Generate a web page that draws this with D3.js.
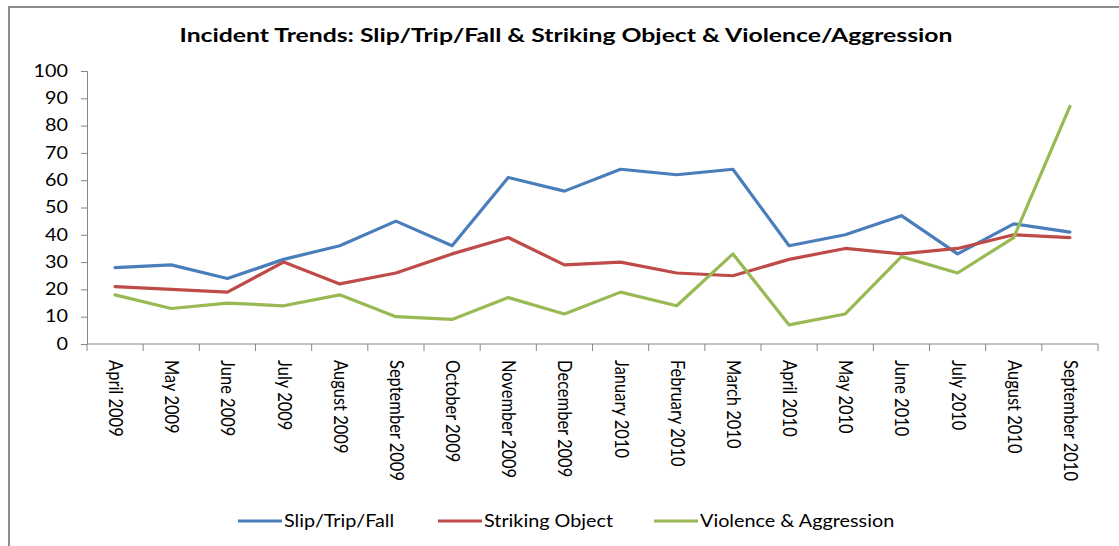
<!DOCTYPE html>
<html>
<head>
<meta charset="utf-8">
<title>Incident Trends</title>
<script src="https://d3js.org/d3.v7.min.js"></script>
<style>
  body { margin: 0; background: #fff; }
  text { font-family: Lato, "Open Sans", sans-serif; fill: #000; }
</style>
</head>
<body>
<div id="chart"></div>
<script>
var width = 1119, height = 546;

// data
var months = ["April 2009", "May 2009", "June 2009", "July 2009", "August 2009",
  "September 2009", "October 2009", "November 2009", "December 2009", "January 2010",
  "February 2010", "March 2010", "April 2010", "May 2010", "June 2010", "July 2010",
  "August 2010", "September 2010"];
var slipTripFall   = [28, 29, 24, 31, 36, 45, 36, 61, 56, 64, 62, 64, 36, 40, 47, 33, 44, 41];
var strikingObject = [21, 20, 19, 30, 22, 26, 33, 39, 29, 30, 26, 25, 31, 35, 33, 35, 40, 39];
var violence       = [18, 13, 15, 14, 18, 10, 9, 17, 11, 19, 14, 33, 7, 11, 32, 26, 39, 87];
var seriesNames  = ["Slip/Trip/Fall", "Striking Object", "Violence & Aggression"];
var seriesColors = ["#4a7ebb", "#be4b48", "#98b954"];
var yTicks = [0, 10, 20, 30, 40, 50, 60, 70, 80, 90, 100];

var series = [slipTripFall, strikingObject, violence];

// the picture is a bit stretched sideways, so horizontal text gets widened
var stretch = 1.2;

var svg = d3.select("#chart").append("svg")
  .attr("width", width)
  .attr("height", height);

// chart frame (only top and left edges are inside the picture)
svg.append("rect")
  .attr("x", 9).attr("y", 7)
  .attr("width", 1200).attr("height", 600)
  .attr("fill", "none")
  .attr("stroke", "#8c8c8c")
  .attr("stroke-width", 2);

svg.append("g")
  .attr("transform", "translate(566,42) scale(1.27,1)")
  .append("text")
  .attr("text-anchor", "middle")
  .style("font-size", "19.5px")
  .style("font-weight", "bold")
  .text("Incident Trends: Slip/Trip/Fall & Striking Object & Violence/Aggression");

var plotL = 87, plotR = 1098, plotT = 71, plotB = 344;

var x = d3.scaleBand().domain(months).range([plotL, plotR]);
var y = d3.scaleLinear().domain([0, 100]).range([plotB, plotT]);

// y axis
var yAxis = svg.append("g")
  .attr("transform", "translate(" + plotL + ",0)")
  .call(d3.axisLeft(y).tickValues(yTicks).tickSize(6).tickPadding(6));
yAxis.select(".domain").attr("stroke", "#868686");
yAxis.selectAll(".tick line").attr("stroke", "#868686");
yAxis.selectAll(".tick text")
  .attr("x", -19 / stretch)
  .attr("transform", "scale(" + stretch + ",1)")
  .style("font-size", "16.5px")
  .attr("fill", "#000");

// x axis: ticks on the category boundaries
var xAxis = svg.append("g")
  .attr("transform", "translate(0," + plotB + ")");
xAxis.append("line")
  .attr("x1", plotL).attr("x2", plotR)
  .attr("stroke", "#868686");
xAxis.selectAll(".bound")
  .data(months.concat(["end"]))
  .enter().append("line")
  .attr("x1", function (d, i) { return i < months.length ? x(d) : plotR; })
  .attr("x2", function (d, i) { return i < months.length ? x(d) : plotR; })
  .attr("y1", 0).attr("y2", 7)
  .attr("stroke", "#868686");
xAxis.selectAll(".lab")
  .data(months)
  .enter().append("text")
  .attr("transform", function (d) {
    return "translate(" + (x(d) + x.bandwidth() / 2 - 6) + ",16) rotate(90) scale(1," + stretch + ")";
  })
  .attr("text-anchor", "start")
  .style("font-size", "16.5px")
  .text(function (d) { return d; });

// lines
var line = d3.line()
  .x(function (d, i) { return x(months[i]) + x.bandwidth() / 2; })
  .y(function (d) { return y(d); });

series.forEach(function (s, k) {
  svg.append("path")
    .datum(s)
    .attr("d", line)
    .attr("fill", "none")
    .attr("stroke", seriesColors[k])
    .attr("stroke-width", 3.2)
    .attr("stroke-linejoin", "round")
    .attr("stroke-linecap", "round");
});

// legend
var legendX = [238, 438, 654];
var legend = svg.append("g").attr("transform", "translate(0,521)");
seriesNames.forEach(function (n, k) {
  legend.append("line")
    .attr("x1", legendX[k]).attr("x2", legendX[k] + 44)
    .attr("stroke", seriesColors[k])
    .attr("stroke-width", 3.2);
  legend.append("g")
    .attr("transform", "translate(" + (legendX[k] + 46) + ",6) scale(" + stretch + ",1)")
    .append("text")
    .style("font-size", "16.5px")
    .text(n);
});
</script>
</body>
</html>
